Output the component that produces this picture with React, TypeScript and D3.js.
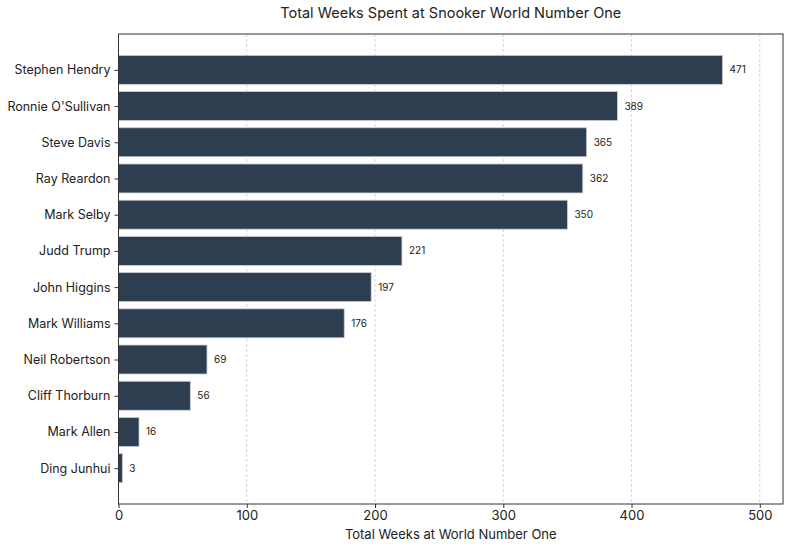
import React, { useEffect, useRef } from 'react';
import * as d3 from 'd3';

const players = [
  'Stephen Hendry', "Ronnie O'Sullivan", 'Steve Davis', 'Ray Reardon', 'Mark Selby',
  'Judd Trump', 'John Higgins', 'Mark Williams', 'Neil Robertson', 'Cliff Thorburn',
  'Mark Allen', 'Ding Junhui',
];
const weeks = [471, 389, 365, 362, 350, 221, 197, 176, 69, 56, 16, 3];
const xTicks = [0, 100, 200, 300, 400, 500];

const W = 800;
const H = 547;
const FONT = 'Inter, "Open Sans", sans-serif';

export default function App() {
  const svgRef = useRef<SVGSVGElement>(null);

  useEffect(() => {
    if (!svgRef.current) return;
    const svg = d3.select(svgRef.current);
    svg.selectAll('*').remove();

    const margin = { top: 34, right: 17, bottom: 43, left: 118.5 };
    const innerLeft = margin.left;
    const innerRight = W - margin.right;
    const innerTop = margin.top;
    const innerBottom = H - margin.bottom;

    const x = d3.scaleLinear()
      .domain([0, d3.max(weeks)! * 1.1])
      .range([innerLeft, innerRight]);

    // matplotlib-like categorical y: index positions with 5% margins
    const y = d3.scaleLinear()
      .domain([-0.99, players.length - 1 + 0.99])
      .range([innerTop, innerBottom]);
    const barH = (y(0.4) - y(-0.4));

    // Grid
    svg.append('g')
      .selectAll('line')
      .data(xTicks)
      .join('line')
      .attr('x1', d => x(d))
      .attr('x2', d => x(d))
      .attr('y1', innerTop)
      .attr('y2', innerBottom)
      .attr('stroke', '#cccccc')
      .attr('stroke-width', 0.8)
      .attr('stroke-dasharray', '3,2');

    // Bars
    svg.append('g')
      .selectAll('rect')
      .data(weeks)
      .join('rect')
      .attr('x', x(0))
      .attr('y', (_, i) => y(i) - barH / 2)
      .attr('width', d => x(d) - x(0))
      .attr('height', barH)
      .attr('fill', '#2c3e50')
      .attr('stroke', '#c8ced4')
      .attr('stroke-width', 0.8);

    // Value labels
    svg.append('g')
      .selectAll('text')
      .data(weeks)
      .join('text')
      .attr('x', d => x(d) + 7)
      .attr('y', (_, i) => y(i))
      .attr('dy', '0.35em')
      .attr('font-family', FONT)
      .attr('font-size', 10)
      .attr('fill', '#222')
      .text(d => d);

    // Frame
    svg.append('rect')
      .attr('x', innerLeft)
      .attr('y', innerTop)
      .attr('width', innerRight - innerLeft)
      .attr('height', innerBottom - innerTop)
      .attr('fill', 'none')
      .attr('stroke', '#333')
      .attr('stroke-width', 1);

    // X axis
    const xAxis = svg.append('g')
      .attr('transform', `translate(0,${innerBottom})`)
      .call(d3.axisBottom(x).tickValues(xTicks).tickSize(4).tickPadding(3));
    xAxis.select('.domain').remove();
    xAxis.selectAll('line').attr('stroke', '#333');
    xAxis.selectAll('text')
      .attr('font-family', FONT)
      .attr('font-size', 13)
      .attr('fill', '#222');

    // Y axis
    const yAxis = svg.append('g')
      .attr('transform', `translate(${innerLeft},0)`)
      .call(d3.axisLeft(y).tickValues(d3.range(players.length)).tickFormat(i => players[+i]).tickSize(4).tickPadding(4));
    yAxis.select('.domain').remove();
    yAxis.selectAll('line').attr('stroke', '#333');
    yAxis.selectAll('text')
      .attr('font-family', FONT)
      .attr('font-size', 12.5)
      .attr('fill', '#222');

    // Title
    svg.append('text')
      .attr('x', (innerLeft + innerRight) / 2)
      .attr('y', 18)
      .attr('text-anchor', 'middle')
      .attr('font-family', FONT)
      .attr('font-size', 14.5)
      .attr('fill', '#222')
      .text('Total Weeks Spent at Snooker World Number One');

    // X label
    svg.append('text')
      .attr('x', (innerLeft + innerRight) / 2)
      .attr('y', 539)
      .attr('text-anchor', 'middle')
      .attr('font-family', FONT)
      .attr('font-size', 13)
      .attr('fill', '#222')
      .text('Total Weeks at World Number One');
  }, []);

  return (
    <svg
      ref={svgRef}
      width={W}
      height={H}
      style={{ position: 'absolute', left: 0, top: 0, background: '#fff' }}
    />
  );
}
